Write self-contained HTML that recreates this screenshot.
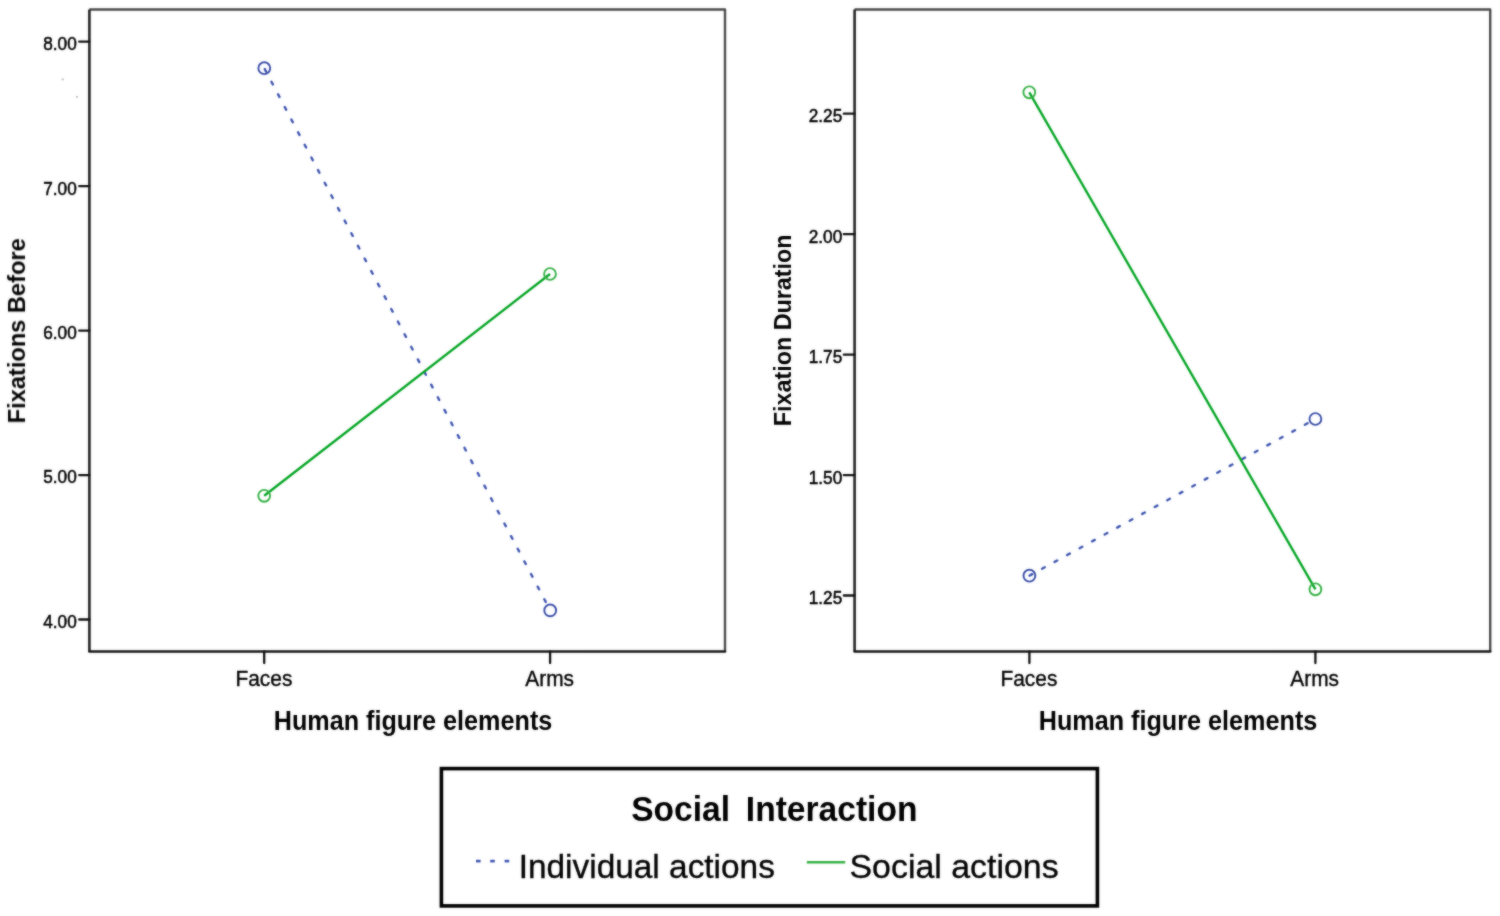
<!DOCTYPE html>
<html><head><meta charset="utf-8">
<style>
html,body{margin:0;padding:0;background:#fff;width:1500px;height:916px;overflow:hidden}
svg{display:block}
text{font-family:"Liberation Sans",sans-serif;fill:#000;stroke:#000;stroke-width:0.5px}
.t{font-size:17.2px}
.x{font-size:20.9px;stroke-width:0.35px}
.l{stroke-width:0.35px}
.b{font-weight:bold;stroke-width:0}
</style></head>
<body>
<svg width="1500" height="916" viewBox="0 0 1500 916">
<defs><filter id="bl" x="0" y="0" width="1500" height="916" filterUnits="userSpaceOnUse" color-interpolation-filters="sRGB"><feGaussianBlur in="SourceGraphic" stdDeviation="0.9" result="b"/><feComposite in="SourceGraphic" in2="b" operator="arithmetic" k1="0" k2="0.5" k3="0.5" k4="0"/></filter></defs>
<rect width="1500" height="916" fill="#fff"/>
<g filter="url(#bl)">
<path d="M89.4 9.45H725.0V651.45" stroke="#4a4a4a" stroke-width="2.4" fill="none" stroke-linejoin="round"/>
<path d="M89.4 9.45V651.45" stroke="#222" stroke-width="2.6" fill="none"/>
<path d="M89.4 651.45H725.0" stroke="#151515" stroke-width="2.5" fill="none" stroke-linecap="round"/>
<path d="M79.2 41.56H89.4M79.2 186.05H89.4M79.2 330.54H89.4M79.2 475.03H89.4M79.2 619.5H89.4" stroke="#111" stroke-width="2.3" stroke-linecap="round"/>
<path d="M264.2 651.45V663.0M550.1 651.45V663.0" stroke="#111" stroke-width="2.3" stroke-linecap="round"/>
<text class="t" text-anchor="end" transform="translate(76.7 50.1) scale(1 1.09)">8.00</text>
<text class="t" text-anchor="end" transform="translate(76.7 194.5) scale(1 1.09)">7.00</text>
<text class="t" text-anchor="end" transform="translate(76.7 338.9) scale(1 1.09)">6.00</text>
<text class="t" text-anchor="end" transform="translate(76.7 483.3) scale(1 1.09)">5.00</text>
<text class="t" text-anchor="end" transform="translate(76.7 627.6) scale(1 1.09)">4.00</text>
<text class="x" transform="translate(235.5 686.4) scale(1 1.07)">Faces</text>
<text class="x" transform="translate(525.3 686.4) scale(1 1.07)">Arms</text>
<text class="b" font-size="25.2" transform="translate(273.7 729.9) scale(1 1.12)">Human figure elements</text>
<text class="b" font-size="23.65" transform="translate(24.9 423.4) rotate(-90) scale(1 1.04)">Fixations Before</text>
<line x1="264.3" y1="68.2" x2="550.2" y2="610.4" stroke="#3b52ae" stroke-width="2.4" stroke-dasharray="3 11.27" stroke-dashoffset="-1.03" stroke-linecap="round"/>
<line x1="264.2" y1="495.8" x2="550" y2="274" stroke="#05a524" stroke-width="2.4"/>
<circle cx="264.3" cy="68.2" r="5.9" stroke="#394da7" stroke-width="1.9" fill="none"/>
<circle cx="550.2" cy="610.4" r="5.9" stroke="#394da7" stroke-width="1.9" fill="none"/>
<circle cx="264.2" cy="495.8" r="5.9" stroke="#35b144" stroke-width="1.9" fill="none"/>
<circle cx="550" cy="274" r="5.9" stroke="#35b144" stroke-width="1.9" fill="none"/>
<path d="M854.6 9.45H1490.2V651.4" stroke="#4a4a4a" stroke-width="2.4" fill="none" stroke-linejoin="round"/>
<path d="M854.6 9.45V651.4" stroke="#222" stroke-width="2.6" fill="none"/>
<path d="M854.6 651.4H1490.2" stroke="#151515" stroke-width="2.5" fill="none" stroke-linecap="round"/>
<path d="M843.8 113.7H854.6M843.8 234.2H854.6M843.8 354.7H854.6M843.8 475.1H854.6M843.8 595.5H854.6" stroke="#111" stroke-width="2.3" stroke-linecap="round"/>
<path d="M1029.4 651.4V663.0M1315.4 651.4V663.0" stroke="#111" stroke-width="2.3" stroke-linecap="round"/>
<text class="t" text-anchor="end" transform="translate(842.2 122.0) scale(1 1.09)">2.25</text>
<text class="t" text-anchor="end" transform="translate(842.2 242.6) scale(1 1.09)">2.00</text>
<text class="t" text-anchor="end" transform="translate(842.2 363.0) scale(1 1.09)">1.75</text>
<text class="t" text-anchor="end" transform="translate(842.2 483.5) scale(1 1.09)">1.50</text>
<text class="t" text-anchor="end" transform="translate(842.2 603.9) scale(1 1.09)">1.25</text>
<text class="x" transform="translate(1000.5 686.4) scale(1 1.07)">Faces</text>
<text class="x" transform="translate(1290.3 686.4) scale(1 1.07)">Arms</text>
<text class="b" font-size="25.2" transform="translate(1038.7 729.9) scale(1 1.12)">Human figure elements</text>
<text class="b" font-size="23.35" transform="translate(790.9 426.3) rotate(-90) scale(1 1.04)">Fixation Duration</text>
<line x1="1029.4" y1="575.7" x2="1315.4" y2="419" stroke="#3b52ae" stroke-width="2.4" stroke-dasharray="3 11.27" stroke-dashoffset="-0.18" stroke-linecap="round"/>
<line x1="1029.3" y1="92.3" x2="1315.4" y2="589.3" stroke="#05a524" stroke-width="2.4"/>
<circle cx="1029.4" cy="575.7" r="5.9" stroke="#394da7" stroke-width="1.9" fill="none"/>
<circle cx="1315.4" cy="419" r="5.9" stroke="#394da7" stroke-width="1.9" fill="none"/>
<circle cx="1029.3" cy="92.3" r="5.9" stroke="#35b144" stroke-width="1.9" fill="none"/>
<circle cx="1315.4" cy="589.3" r="5.9" stroke="#35b144" stroke-width="1.9" fill="none"/>
<circle cx="62.7" cy="79.4" r="1.1" fill="#bdbdbd"/><circle cx="76.9" cy="96.9" r="1.1" fill="#c2c2c2"/>
<rect x="441.4" y="768.6" width="656" height="137.3" fill="none" stroke="#000" stroke-width="3.6"/>
<text class="b" font-size="33.6" transform="translate(631.2 820.5) scale(1 1.02)">Social</text>
<text class="b" font-size="33.6" transform="translate(745.8 820.5) scale(1 1.02)">Interaction</text>
<g fill="#3b52ae"><rect x="476" y="859.8" width="4.6" height="2.6"/><rect x="490.2" y="859.8" width="4.6" height="2.6"/><rect x="504.6" y="859.8" width="4.6" height="2.6"/></g>
<line x1="806.8" y1="862.2" x2="845.2" y2="862.2" stroke="#35b144" stroke-width="2.5"/>
<text class="l" font-size="33.4" transform="translate(518.7 877.9) scale(1 1.0)">Individual actions</text>
<text class="l" font-size="33.9" transform="translate(849.5 877.9) scale(1 1.0)">Social actions</text>
</g>
</svg>
</body></html>
